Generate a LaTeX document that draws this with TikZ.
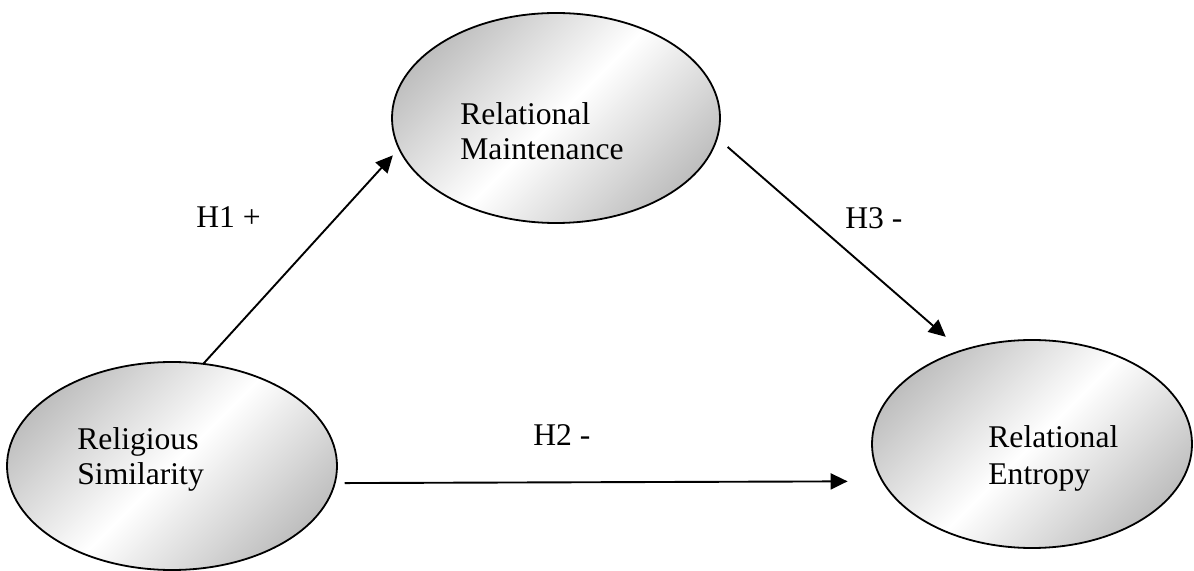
\documentclass[tikz,border=0pt]{standalone}
\usepackage{fontspec}
\setmainfont{Liberation Serif}
\usetikzlibrary{arrows.meta,shapes.geometric}
\pgfdeclarehorizontalshading{ellshade}{100bp}{color(0bp)=(black!50); color(50bp)=(white); color(100bp)=(black!50)}
\begin{document}
\begin{tikzpicture}[x=0.5pt,y=-0.5pt,
  construct/.style={ellipse, draw=black, line width=0.9pt, inner sep=0pt, outer sep=0pt,
    shade, shading=ellshade, shading angle=-45},
  txt/.style={anchor=base west, inner sep=0pt, font=\fontsize{15.8pt}{18pt}\selectfont},
  link/.style={line width=0.95pt, -{Triangle[length=8.5pt,width=8pt]}}
]
\useasboundingbox (0,0) rectangle (1194,571);

\node[construct, minimum width=165pt, minimum height=104pt] (rs) at (172,466) {};
\node[construct, minimum width=164pt, minimum height=105pt] (rm) at (556,118) {};
\node[construct, minimum width=160pt, minimum height=104pt] (re) at (1032,444) {};

\node[txt] (rs1) at (77,450) {Religious};
\node[txt] (rs2) at (77,485) {Similarity};
\node[txt] (rm1) at (460,125) {Relational};
\node[txt] (rm2) at (460,160) {Maintenance};
\node[txt] (re1) at (988,448) {Relational};
\node[txt] (re2) at (988,485) {Entropy};

\node[txt, anchor=base east] (h1) at (261,228) {H1 +};
\node[txt] (h2) at (533,445) {H2 -};
\node[txt] (h3) at (845,229) {H3 -};

\draw[link, shorten >=4.65pt] (rs.73.1) -- (rm.191.2);
\draw[link, shorten <=7pt, shorten >=10.5pt] (rm.353.7) -- (re.127.45);
\draw[link, shorten <=5pt, shorten >=17.5pt] (rs.354.4) -- (re.194.3);
\end{tikzpicture}
\end{document}
